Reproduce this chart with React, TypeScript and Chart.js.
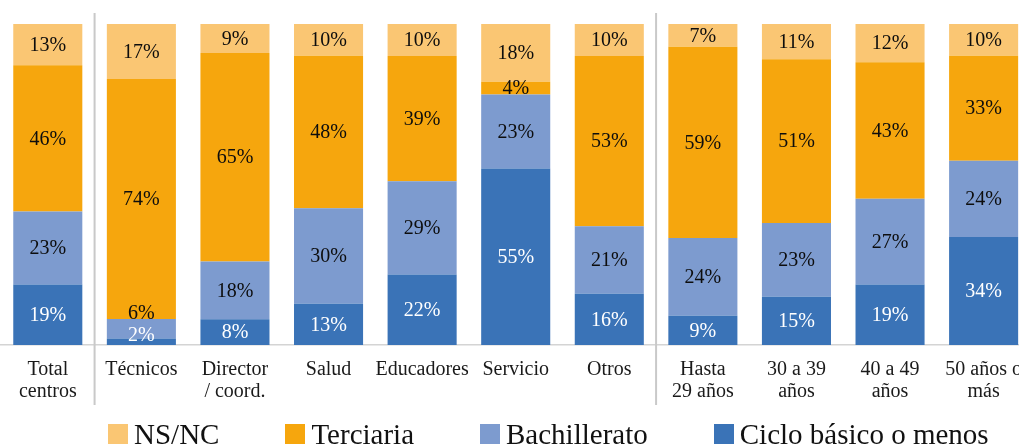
import React, { useEffect, useRef } from "react";
import { Chart, registerables } from "chart.js";

Chart.register(...registerables);

// ---- data ----
const categories: string[][] = [
  ["Total", "centros"],
  ["Técnicos"],
  ["Director", "/ coord."],
  ["Salud"],
  ["Educadores"],
  ["Servicio"],
  ["Otros"],
  ["Hasta", "29 años"],
  ["30 a 39", "años"],
  ["40 a 49", "años"],
  ["50 años o", "más"],
];

const cicloBasico = [19, 2, 8, 13, 22, 55, 16, 9, 15, 19, 34];
const bachillerato = [23, 6, 18, 30, 29, 23, 21, 24, 23, 27, 24];
const terciaria = [46, 74, 65, 48, 39, 4, 53, 59, 51, 43, 33];
const nsnc = [13, 17, 9, 10, 10, 18, 10, 7, 11, 12, 10];

const seriesNames = ["Ciclo básico o menos", "Bachillerato", "Terciaria", "NS/NC"];
const seriesValues = [cicloBasico, bachillerato, terciaria, nsnc];
const seriesColors = ["#3A73B7", "#7D9BCF", "#F6A60D", "#FAC673"];
const labelColors = ["#FFFFFF", "#0D0D0D", "#0D0D0D", "#0D0D0D"];

// group separators drawn after these category indices
const separatorsAfter = [0, 6];

const FONT = "'Liberation Serif', 'Times New Roman', serif";

// 100% stacked: each bar normalised to its total
const totals = categories.map((_, i) =>
  seriesValues.reduce((s, arr) => s + arr[i], 0)
);

const segmentLabelPlugin = {
  id: "segmentLabels",
  afterDatasetsDraw(chart: any) {
    const ctx = chart.ctx;
    const bottom = chart.chartArea.bottom;
    ctx.save();
    ctx.font = `20px ${FONT}`;
    ctx.textAlign = "center";
    ctx.textBaseline = "middle";
    const n = chart.data.labels.length;
    for (let i = 0; i < n; i++) {
      let prev = Infinity;
      chart.data.datasets.forEach((ds: any, d: number) => {
        const el = chart.getDatasetMeta(d).data[i];
        if (!el) return;
        let cy = (el.y + el.base) / 2 + 1;
        cy = Math.min(cy, bottom - 9, prev - 22);
        prev = cy;
        ctx.fillStyle = labelColors[d];
        ctx.fillText(`${ds.rawValues[i]}%`, el.x, cy);
      });
    }
    ctx.restore();
  },
};

const separatorPlugin = {
  id: "separators",
  afterDraw(chart: any) {
    const ctx = chart.ctx;
    const xs = chart.scales.x;
    ctx.save();
    ctx.strokeStyle = "#C9C9C9";
    ctx.lineWidth = 2;
    separatorsAfter.forEach((idx) => {
      const x = (xs.getPixelForValue(idx) + xs.getPixelForValue(idx + 1)) / 2;
      ctx.beginPath();
      ctx.moveTo(x, 13);
      ctx.lineTo(x, 405);
      ctx.stroke();
    });
    ctx.restore();
  },
};

export default function App() {
  const canvasRef = useRef<HTMLCanvasElement | null>(null);

  useEffect(() => {
    if (!canvasRef.current) return;
    const chart = new Chart(canvasRef.current, {
      type: "bar",
      data: {
        labels: categories,
        datasets: seriesNames.map((name, d) => ({
          label: name,
          data: seriesValues[d].map((v, i) => (v / totals[i]) * 100),
          rawValues: seriesValues[d],
          backgroundColor: seriesColors[d],
          borderWidth: 0,
          categoryPercentage: 0.738,
          barPercentage: 1,
        })) as any,
      },
      options: {
        animation: false,
        responsive: false,
        devicePixelRatio: 1,
        layout: { padding: { top: 24, left: 1, right: 1, bottom: 0 } },
        plugins: {
          legend: { display: false },
          tooltip: { enabled: false },
        },
        scales: {
          x: {
            stacked: true,
            grid: { display: false, drawTicks: false },
            border: { display: true, color: "#D4D4D4", width: 1.5 },
            ticks: {
              color: "#1A1A1A",
              padding: 14,
              maxRotation: 0,
              autoSkip: false,
              font: { family: FONT, size: 20, lineHeight: 22 / 20 },
            },
            afterFit: (scale: any) => {
              scale.height = 101;
            },
          },
          y: {
            stacked: true,
            display: false,
            min: 0,
            max: 100,
          },
        },
      },
      plugins: [segmentLabelPlugin, separatorPlugin],
    });
    return () => chart.destroy();
  }, []);

  const legendOrder = [3, 2, 1, 0];

  return (
    <div
      style={{
        position: "fixed",
        left: 0,
        top: 0,
        width: 1019,
        height: 446,
        overflow: "hidden",
        background: "#FFFFFF",
      }}
    >
      <canvas
        ref={canvasRef}
        width={1036}
        height={446}
        style={{ position: "absolute", left: 0, top: 0, width: 1036, height: 446 }}
      />
      <div
        style={{
          position: "absolute",
          left: 108,
          top: 420,
          height: 28,
          display: "flex",
          alignItems: "center",
          gap: 66,
          whiteSpace: "nowrap",
          fontFamily: FONT,
          fontSize: 29,
          lineHeight: "28px",
          color: "#111111",
        }}
      >
        {legendOrder.map((d) => (
          <div key={d} style={{ display: "flex", alignItems: "center", gap: 6 }}>
            <span
              style={{
                display: "inline-block",
                width: 20,
                height: 20,
                background: seriesColors[d],
              }}
            />
            <span>{seriesNames[d]}</span>
          </div>
        ))}
      </div>
    </div>
  );
}
